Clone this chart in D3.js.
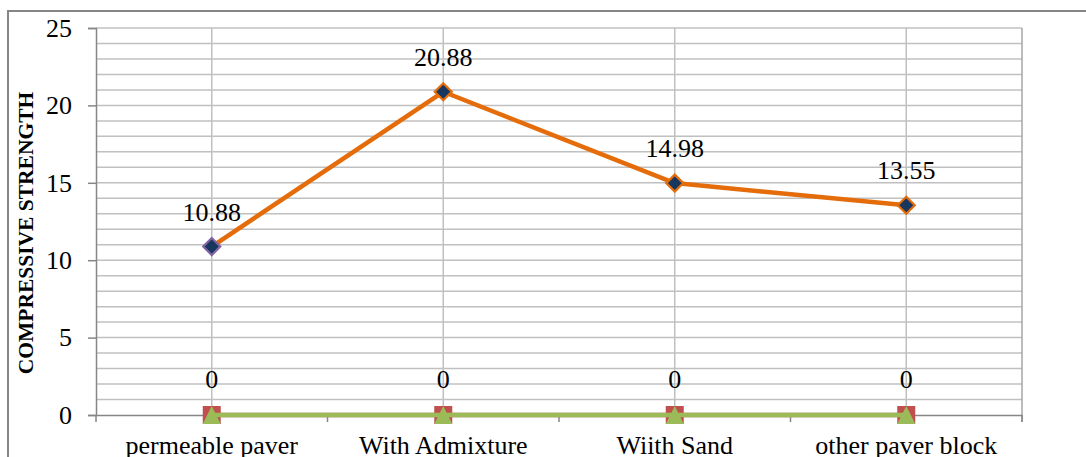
<!DOCTYPE html>
<html>
<head>
<meta charset="utf-8">
<script src="https://cdn.jsdelivr.net/npm/d3@7"></script>
<style>
  html, body { margin: 0; padding: 0; background: #fff; }
  svg { display: block; }
  text { font-family: "Liberation Serif", "Times New Roman", serif; fill: #000; }
</style>
</head>
<body>
<svg id="chart" width="1086" height="457"></svg>
<script>
// Compressive strength by block type
const categories = ["permeable paver", "With Admixture", "Wiith Sand", "other paver block"];
const strength = [10.88, 20.88, 14.98, 13.55];
const seriesB = [0, 0, 0, 0];
const seriesC = [0, 0, 0, 0];
const yTicks = [0, 5, 10, 15, 20, 25];
const yTitle = "COMPRESSIVE STRENGTH";

const svg = d3.select("#chart");
const plot = { left: 96, right: 1022, top: 28, bottom: 415 };
const FONT = 26;

// outer chart frame (extends past the visible page on the right and bottom)
svg.append("rect")
  .attr("x", 8).attr("y", 11)
  .attr("width", 1200).attr("height", 600)
  .attr("fill", "none").attr("stroke", "#868686").attr("stroke-width", 2);

const xBand = d3.scaleBand().domain(categories).range([plot.left, plot.right]).padding(0);
const xc = d => xBand(d) + xBand.bandwidth() / 2;
const y = d3.scaleLinear().domain([0, 25]).range([plot.bottom, plot.top]);

// horizontal gridlines every unit
const grid = svg.append("g");
grid.selectAll("line.h")
  .data(d3.range(1, 26))
  .join("line")
  .attr("x1", plot.left).attr("x2", plot.right)
  .attr("y1", d => y(d)).attr("y2", d => y(d))
  .attr("stroke", "#c0c0c0").attr("stroke-width", 1.5);

// vertical gridlines through each category
grid.selectAll("line.v")
  .data(categories)
  .join("line")
  .attr("x1", d => xc(d)).attr("x2", d => xc(d))
  .attr("y1", plot.top).attr("y2", plot.bottom)
  .attr("stroke", "#c0c0c0").attr("stroke-width", 1.5);

// right edge of plot
grid.append("line")
  .attr("x1", plot.right).attr("x2", plot.right)
  .attr("y1", plot.top).attr("y2", plot.bottom + 7)
  .attr("stroke", "#a6a6a6").attr("stroke-width", 1.5);

// y axis
const yAxis = d3.axisLeft(y).tickValues(yTicks).tickSize(8).tickPadding(16);
const gy = svg.append("g").attr("transform", `translate(${plot.left},0)`).call(yAxis);
gy.select(".domain").attr("stroke", "#868686").attr("stroke-width", 1.5);
gy.selectAll(".tick line").attr("stroke", "#868686").attr("stroke-width", 1.5);
gy.selectAll(".tick text")
  .attr("font-family", "Liberation Serif, Times New Roman, serif")
  .attr("font-size", FONT).attr("fill", "#000");

// x axis
const xAxis = d3.axisBottom(xBand).tickSize(0).tickPadding(32);
const gx = svg.append("g").attr("transform", `translate(0,${plot.bottom})`).call(xAxis);
gx.select(".domain").attr("stroke", "#868686").attr("stroke-width", 1.5);
gx.selectAll(".tick text")
  .attr("font-family", "Liberation Serif, Times New Roman, serif")
  .attr("font-size", FONT).attr("fill", "#000")
  .attr("dy", "0.25em");
// boundary tick marks between categories
gx.selectAll("line.bt")
  .data(categories.map(c => xBand(c)).concat([plot.right]))
  .join("line")
  .attr("x1", d => d).attr("x2", d => d)
  .attr("y1", 0).attr("y2", 7)
  .attr("stroke", "#868686").attr("stroke-width", 1.5);

// axis title
svg.append("text")
  .attr("transform", `translate(33,233) rotate(-90)`)
  .attr("text-anchor", "middle")
  .attr("font-weight", "bold")
  .attr("font-size", 21.5)
  .text(yTitle);

const line = d3.line().x((d, i) => xc(categories[i])).y(d => y(d));

// zero series (squares), line hidden under the next one
svg.append("path").datum(seriesB)
  .attr("d", line).attr("fill", "none")
  .attr("stroke", "#c0504d").attr("stroke-width", 4.5);
svg.selectAll("rect.sq")
  .data(seriesB)
  .join("rect")
  .attr("x", (d, i) => xc(categories[i]) - 9)
  .attr("y", d => y(d) - 9)
  .attr("width", 18).attr("height", 18)
  .attr("fill", "#c0504d");

// zero series (triangles)
svg.append("path").datum(seriesC)
  .attr("d", line).attr("fill", "none")
  .attr("stroke", "#9bbb59").attr("stroke-width", 4.5);
svg.selectAll("path.tri")
  .data(seriesC)
  .join("path")
  .attr("d", (d, i) => {
    const cx = xc(categories[i]), cy = y(d);
    return `M${cx},${cy - 9} L${cx + 9},${cy + 9} L${cx - 9},${cy + 9} Z`;
  })
  .attr("fill", "#9bbb59");

// strength series
svg.append("path").datum(strength)
  .attr("d", line).attr("fill", "none")
  .attr("stroke", "#e46c0a").attr("stroke-width", 4.5)
  .attr("stroke-linejoin", "round");
svg.selectAll("path.dia")
  .data(strength)
  .join("path")
  .attr("d", (d, i) => {
    const cx = xc(categories[i]), cy = y(d);
    return `M${cx},${cy - 8.5} L${cx + 8.5},${cy} L${cx},${cy + 8.5} L${cx - 8.5},${cy} Z`;
  })
  .attr("fill", "#17375e")
  .attr("stroke", (d, i) => i === 0 ? "#8064a2" : "#e46c0a")
  .attr("stroke-width", 2.2);

// data labels
svg.selectAll("text.lbl")
  .data(strength)
  .join("text")
  .attr("x", (d, i) => xc(categories[i]))
  .attr("y", d => y(d) - 26)
  .attr("text-anchor", "middle")
  .attr("font-size", FONT)
  .text(d => d.toFixed(2));

svg.selectAll("text.zl")
  .data(seriesC)
  .join("text")
  .attr("x", (d, i) => xc(categories[i]))
  .attr("y", d => y(d) - 27)
  .attr("text-anchor", "middle")
  .attr("font-size", FONT)
  .text(d => d);
</script>
</body>
</html>
